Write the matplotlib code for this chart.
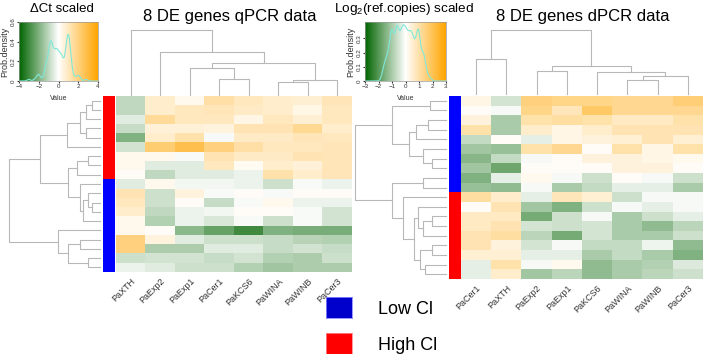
import numpy as np
import matplotlib
matplotlib.use("Agg")
import matplotlib.pyplot as plt
from matplotlib.colors import LinearSegmentedColormap

plt.rcParams['font.family'] = ['Liberation Sans', 'DejaVu Sans']
plt.rcParams['mathtext.fontset'] = 'custom'
plt.rcParams['mathtext.rm'] = 'Liberation Sans'
plt.rcParams['mathtext.it'] = 'Liberation Sans:italic'

# ---------------- data ----------------
left_genes = ["PaXTH", "PaExp2", "PaExp1", "PaCer1", "PaKCS6", "PaWINA", "PaWINB", "PaCer3"]
left_groups = ["High"] * 9 + ["Low"] * 10
left_values = np.array([
    [-1.0, 0.8, 0.3, 1.4, 1.0, 0.8, 0.7, 1.1],
    [-1.0, 0.8, 1.0, 1.1, 0.9, 0.8, 0.4, 1.0],
    [-0.5, 1.6, 1.0, 1.0, 0.4, 1.0, 0.7, 1.0],
    [-0.9, 0.6, 0.6, 0.5, 1.2, 1.2, 1.7, 0.8],
    [-2.0, 0.8, 1.3, -0.1, 0.9, 0.9, 1.1, 1.0],
    [-0.7, 2.2, 2.8, 2.0, 1.4, 1.0, 1.0, 1.1],
    [0.3, 0.3, -0.1, 1.2, 0.9, 0.9, 1.2, 1.1],
    [0.3, -0.5, -0.5, 1.0, 0.2, 0.8, 0.6, 1.1],
    [0.1, -1.0, -0.5, -0.5, -0.3, 1.3, 0.8, 1.1],
    [-0.5, 0.3, -0.2, -0.2, -0.3, -0.8, -0.1, -0.3],
    [1.2, -0.8, 0.5, -0.1, 0.1, -0.1, 0.1, 0.1],
    [1.0, -0.8, 0.1, -0.9, -0.1, 0.3, -0.3, -0.3],
    [0.8, -1.0, -0.3, -0.2, 0.1, 0.1, -0.1, -0.7],
    [0.3, -1.2, -0.3, -0.6, -0.1, -0.8, -0.1, -0.7],
    [0.3, 0.1, -1.8, -2.4, -3.0, -2.0, -2.1, -2.1],
    [2.0, 0.5, -0.5, -0.8, -0.8, -0.9, -1.1, -1.2],
    [2.0, -1.3, -1.3, -0.5, -0.5, -0.9, -0.7, -0.9],
    [-0.8, -0.7, -0.7, -0.9, -0.7, -1.2, -1.3, -0.8],
    [-0.3, -0.5, -0.8, -0.8, -1.2, -1.5, -1.3, -1.3],
])

right_genes = ["PaCer1", "PaXTH", "PaExp2", "PaExp1", "PaKCS6", "PaWINA", "PaWINB", "PaCer3"]
right_groups = ["Low"] * 10 + ["High"] * 9
right_values = np.array([
    [0.3, -0.5, 1.5, 1.4, 1.4, 1.3, 1.3, 1.6],
    [0.1, -0.1, 1.4, 0.8, 1.8, 1.3, 1.3, 1.3],
    [0.4, -1.0, 1.0, 1.1, 1.0, 0.7, 0.7, 1.0],
    [1.0, -1.0, 0.6, 0.3, 0.6, 0.9, 0.9, 0.9],
    [-0.7, 0.1, -0.3, 0.3, 0.4, 0.5, 0.9, 0.5],
    [-1.1, -1.2, 1.0, 1.3, 0.1, 1.0, 0.3, 1.0],
    [-1.4, -0.7, -0.1, 0.1, 0.4, 0.4, 0.3, 0.2],
    [-1.1, -1.7, 0.1, 0.1, 0.1, 0.4, 0.4, 0.1],
    [-1.5, -0.3, 0.2, -0.1, -0.6, 0.1, -0.1, -0.6],
    [-1.2, -1.3, -0.1, -1.0, -0.7, -0.3, -0.3, -1.0],
    [1.1, 0.6, -0.3, 0.8, 0.5, -0.6, -0.1, -0.1],
    [0.1, 0.9, -1.1, -1.5, -0.6, -0.1, -0.3, -0.1],
    [0.7, 0.7, -1.6, -0.6, -0.1, -1.0, -0.6, -0.3],
    [0.7, 0.9, -0.5, -0.6, -0.5, -1.0, -1.3, -0.8],
    [0.9, 1.1, -0.8, -1.6, -0.5, -1.0, -1.0, -0.6],
    [0.9, 0.4, -0.5, -0.1, -0.7, -0.7, -0.2, -1.3],
    [0.5, 0.5, -0.3, -0.3, -1.0, -0.7, -1.0, -1.5],
    [-0.3, 1.0, -0.1, 0.2, -1.3, -1.0, -0.9, -0.4],
    [-0.3, 0.6, -1.1, -0.8, -1.3, -1.0, -0.8, -0.6],
])

# dendrogram trees: (height, left, right); ints are leaf positions
left_row_tree = (272,
                 (178,
                  (100, (60, (42, (25, 0, 1), 2), (42, 3, 4)), 5),
                  (95, (70, (35, 6, 7), 8), (60, 9, (50, (35, 10, (25, 11, 12)), 13)))),
                 (125, 14, (95, (60, 15, 16), (35, 17, 18))))
left_col_tree = (195, 0, (128, 1, (95, (80, 2, (48, 3, 4)), (45, (40, 5, 6), 7))))

right_row_tree = (273,
                  (163, (48, 0, 1), (110, (90, (53, 2, 3), 4), (68, 5, (43, 6, 7)))),
                  (163, (68, 8, 9),
                   (130, 10, (96, (83, 11, (68, (43, 12, 13), 14)), (78, (43, 15, 16), (63, 17, 18))))))
right_col_tree = (193, (105, 0, 1), (83, (68, 2, 3), (65, 4, (53, (43, 5, 6), 7))))

group_colors = {"Low": "#0000FF", "High": "#FF0000"}
legend_labels = ["Low Cl", "High Cl"]

# ---------------- helpers ----------------
W, H = 703, 354
fig = plt.figure(figsize=(W / 100, H / 100), dpi=100)


def add_px(x0, y0, x1, y1):
    return fig.add_axes([x0 / W, 1 - y1 / H, (x1 - x0) / W, (y1 - y0) / H])


cmap = LinearSegmentedColormap.from_list("gwo", ["#006400", "#FFFFFF", "#FFA500"])
dcol = "#b8b8b8"


def segs(node, out):
    if isinstance(node, int):
        return float(node), 0.0
    h, l, r = node
    pl, hl = segs(l, out)
    pr, hr = segs(r, out)
    out.append(([pl, pl, pr, pr], [hl, h, h, hr]))
    return (pl + pr) / 2, h


def draw_row_dendro(ax, tree, n):
    out = []
    segs(tree, out)
    for pos, hts in out:
        ax.plot(hts, pos, color=dcol, lw=0.8, clip_on=False)
    ax.set_xlim(tree[0], 0)
    ax.set_ylim(n - 0.5, -0.5)
    ax.axis("off")


def draw_col_dendro(ax, tree, n):
    out = []
    segs(tree, out)
    for pos, hts in out:
        ax.plot(pos, hts, color=dcol, lw=0.8, clip_on=False)
    ax.set_ylim(0, tree[0])
    ax.set_xlim(-0.5, n - 0.5)
    ax.axis("off")


def draw_heat(ax, vals, genes, lim):
    ax.imshow(vals, cmap=cmap, vmin=-lim, vmax=lim, aspect="auto", interpolation="nearest")
    for s in ax.spines.values():
        s.set_visible(False)
    ax.set_yticks([])
    ax.set_xticks(range(len(genes)))
    ax.set_xticklabels(genes, rotation=45, ha="right", va="top", rotation_mode="anchor",
                       fontsize=6.5, color="#333333")
    ax.tick_params(axis="x", length=0, pad=3)


def draw_side(ax, groups):
    cols = np.array([matplotlib.colors.to_rgb(group_colors[g]) for g in groups])[:, None, :]
    ax.imshow(cols, aspect="auto", interpolation="nearest")
    ax.axis("off")


def kde(vals, lo, hi):
    x = vals.ravel()
    n = len(x)
    sd = x.std(ddof=1)
    iqr = np.subtract(*np.percentile(x, [75, 25]))
    bw = 0.9 * min(sd, iqr / 1.34) * n ** -0.2 * 0.5
    grid = np.linspace(lo, hi, 400)
    d = np.exp(-0.5 * ((grid[:, None] - x[None, :]) / bw) ** 2).sum(1) / (n * bw * np.sqrt(2 * np.pi))
    return grid, d


def draw_key(ax, vals, lim, xticks, yticks, title, title_x, tsize):
    grid, d = kde(vals, -lim, lim)
    ymax = max(d.max() * 1.05, yticks[-1])
    grad = np.linspace(-lim, lim, 256)[None, :]
    ax.imshow(grad, cmap=cmap, vmin=-lim, vmax=lim, aspect="auto", extent=(-lim, lim, 0, ymax))
    ax.plot(grid, d, color="#7fe8d8", lw=0.8)
    ax.set_xlim(-lim, lim)
    ax.set_ylim(0, ymax)
    ax.set_xticks(xticks)
    ax.set_yticks(yticks)
    ax.set_yticklabels([f"{t:g}" for t in yticks], rotation=90, va="center")
    ax.tick_params(labelsize=4.5, length=1.5, pad=1, colors="#333333")
    ax.set_xlabel("Value", fontsize=5, labelpad=4, color="#333333")
    ax.set_ylabel("Prob.density", fontsize=6.5, labelpad=1, color="#333333")
    for s in ax.spines.values():
        s.set_color("#999999")
        s.set_linewidth(0.5)
    fig.text(title_x / W, 1 - 9 / H, title, fontsize=tsize, ha="center", va="center")


# ---------------- left panel ----------------
axh = add_px(116, 96, 352, 272)
draw_heat(axh, left_values, left_genes, 4)
draw_side(add_px(103, 96, 115, 272), left_groups)
axr = add_px(9, 96, 100, 272)
draw_row_dendro(axr, left_row_tree, len(left_groups))
axc = add_px(116, 30, 352, 95)
draw_col_dendro(axc, left_col_tree, len(left_genes))
axk = add_px(19, 22, 98, 81)
draw_key(axk, left_values, 4, [-4, -2, 0, 2, 4], [0, 0.2, 0.4, 0.6], "ΔCt scaled", 62, 9.5)
fig.text(230 / W, 1 - 17 / H, "8 DE genes qPCR data", fontsize=12, ha="center", va="center")

# ---------------- right panel ----------------
axh2 = add_px(461, 96, 703, 279)
draw_heat(axh2, right_values, right_genes, 3)
draw_side(add_px(449, 96, 461, 279), right_groups)
axr2 = add_px(355, 96, 446, 279)
draw_row_dendro(axr2, right_row_tree, len(right_groups))
axc2 = add_px(461, 30, 703, 94)
draw_col_dendro(axc2, right_col_tree, len(right_genes))
axk2 = add_px(365, 22, 446, 81)
draw_key(axk2, right_values, 3, [-3, -2, -1, 0, 1, 2, 3], [0, 0.1, 0.2, 0.3],
         "Log$_2$(ref.copies) scaled", 404, 9.7)
fig.text(583 / W, 1 - 17 / H, "8 DE genes dPCR data", fontsize=12, ha="center", va="center")

# ---------------- legend ----------------
for i, (g, lab) in enumerate(zip(["Low", "High"], legend_labels)):
    y0 = 297 + i * 36
    axl = add_px(326, y0, 352, y0 + 21)
    axl.set_facecolor(group_colors[g] if g == "High" else "#0000CC")
    axl.set_xticks([])
    axl.set_yticks([])
    for s in axl.spines.values():
        s.set_color("#8888ff" if g == "Low" else "#ff8888")
        s.set_linewidth(0.6)
    fig.text(378 / W, 1 - (y0 + 12) / H, lab, fontsize=13, ha="left", va="center")

fig.savefig("out.png", dpi=100)
